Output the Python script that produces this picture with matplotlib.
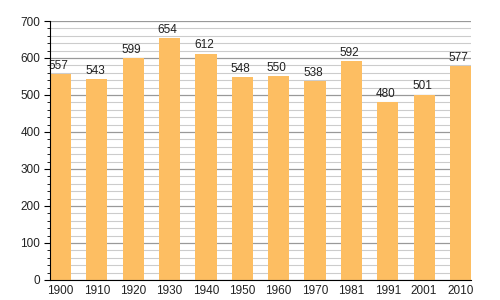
import matplotlib
matplotlib.use("Agg")
import matplotlib.pyplot as plt
from matplotlib.ticker import MultipleLocator

years = ["1900", "1910", "1920", "1930", "1940", "1950", "1960", "1970", "1981", "1991", "2001", "2010"]
population = [557, 543, 599, 654, 612, 548, 550, 538, 592, 480, 501, 577]

plt.rcParams['font.family'] = ['Liberation Sans', 'DejaVu Sans']
fig = plt.figure(figsize=(5, 3), dpi=100)
ax = fig.add_axes([0.1, 0.067, 0.842, 0.863])

x = list(range(len(years)))
w = 0.58
ax.bar(x, population, width=w, color="#FDBE62", zorder=3)
for xi, v in zip(x, population):
    ax.text(xi - 0.05, v + 6, str(v), ha="center", va="bottom", fontsize=8.5, color="#222222", zorder=4)

ax.set_xlim(-w / 2, len(years) - 1 + w / 2)
ax.set_ylim(0, 700)
ax.yaxis.set_major_locator(MultipleLocator(100))
ax.yaxis.set_minor_locator(MultipleLocator(20))
ax.grid(which="major", axis="y", color="#999999", linewidth=0.9, zorder=1)
ax.grid(which="minor", axis="y", color="#cccccc", linewidth=0.8, zorder=1)
ax.set_xticks(x)
ax.set_xticklabels(years)
ax.tick_params(axis="x", length=0, labelsize=8.5, pad=4, labelcolor="#222222")
ax.tick_params(axis="y", which="major", length=4, labelsize=8.5, pad=3, labelcolor="#222222")
ax.tick_params(axis="y", which="minor", length=2)
for s in ["top", "right"]:
    ax.spines[s].set_visible(False)
ax.spines["left"].set_color("black")
ax.spines["bottom"].set_color("black")
ax.spines["left"].set_zorder(5)
ax.spines["bottom"].set_zorder(5)

fig.savefig("out.png", dpi=100)
